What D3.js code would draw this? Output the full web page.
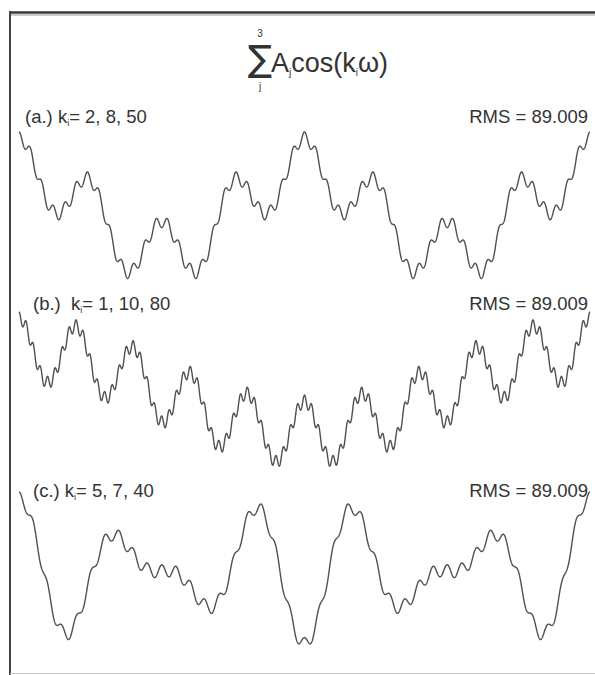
<!DOCTYPE html>
<html>
<head>
<meta charset="utf-8">
<script src="https://cdn.jsdelivr.net/npm/d3@7"></script>
<style>
  body { margin: 0; background: #fff; }
  svg text { font-family: "Liberation Sans", Arial, sans-serif; fill: #333; }
</style>
</head>
<body>
<div id="vis"></div>
<script>
// three harmonics per panel, same amplitudes in each
var amplitudes = [100, 75, 15];
var panelNames = ["(a.)", "(b.)", "(c.)"];
var kValues = [[2, 8, 50], [1, 10, 80], [5, 7, 40]];
var rmsLabels = ["RMS = 89.009", "RMS = 89.009", "RMS = 89.009"];
var nSamples = 2400;

var W = 595, H = 675;
var svg = d3.select("#vis").append("svg")
    .attr("width", W).attr("height", H);

// frame (scan is cut on the right)
svg.append("line").attr("x1", 10).attr("x2", 595).attr("y1", 12.5).attr("y2", 12.5)
    .attr("stroke", "#3a3a3a").attr("stroke-width", 2.5);
svg.append("line").attr("x1", 10).attr("x2", 595).attr("y1", 15).attr("y2", 15)
    .attr("stroke", "#bbb").attr("stroke-width", 1.5);
svg.append("line").attr("x1", 10).attr("x2", 10).attr("y1", 11).attr("y2", 675)
    .attr("stroke", "#444").attr("stroke-width", 2);
svg.append("line").attr("x1", 10).attr("x2", 595).attr("y1", 673.5).attr("y2", 673.5)
    .attr("stroke", "#c8c8c8").attr("stroke-width", 1);

// title: sum sign with its limits in one text, formula in another
var sig = svg.append("text").attr("font-size", 36)
    .style("font-family", "'DejaVu Sans', sans-serif");
sig.append("tspan").attr("x", 248).attr("y", 71).text("\u2211");
sig.append("tspan").attr("x", 260).attr("y", 37).attr("font-size", 10)
    .attr("text-anchor", "middle").style("font-family", "'Liberation Sans', Arial").text("3");
sig.append("tspan").attr("x", 260).attr("y", 90).attr("font-size", 10)
    .attr("text-anchor", "middle").style("font-family", "'Liberation Sans', Arial").text("j");

var tt = svg.append("text").attr("x", 271).attr("y", 72).attr("font-size", 27);
tt.append("tspan").text("A");
tt.append("tspan").attr("font-size", 10).attr("dy", 4).text("j");
tt.append("tspan").attr("dy", -4).text("cos(k");
tt.append("tspan").attr("font-size", 10).attr("dy", 4).text("i");
tt.append("tspan").attr("dy", -4).text("\u03c9)");

var x = d3.scaleLinear().domain([0, 2 * Math.PI]).range([19, 590]);
var maxAmp = d3.sum(amplitudes);

var centers = [211, 391, 571];
var labelY = [123, 310, 497];

var line = d3.line().x(function(d) { return x(d[0]); });

kValues.forEach(function(ks, p) {
    var y = d3.scaleLinear().domain([-maxAmp, maxAmp])
        .range([centers[p] + maxAmp * 0.416, centers[p] - maxAmp * 0.416]);

    var pts = d3.range(nSamples + 1).map(function(i) {
        var w = 2 * Math.PI * i / nSamples;
        var v = d3.sum(ks, function(k, j) { return amplitudes[j] * Math.cos(k * w); });
        return [w, v];
    });

    svg.append("path").datum(pts)
        .attr("d", line.y(function(d) { return y(d[1]); }))
        .attr("fill", "none").attr("stroke", "#505050").attr("stroke-width", 1.4);

    var lx = p === 0 ? 25 : 33;
    var lab = svg.append("text").attr("x", lx).attr("y", labelY[p]).attr("font-size", 18.5);
    lab.append("tspan").text(panelNames[p] + (p === 1 ? "\u00a0 k" : " k"));
    lab.append("tspan").attr("font-size", 9).attr("dy", 3).text("i");
    lab.append("tspan").attr("dy", -3).text("= " + ks.join(", "));

    svg.append("text").attr("x", 588).attr("y", labelY[p]).attr("font-size", 18.5)
        .attr("text-anchor", "end").text(rmsLabels[p]);
});
</script>
</body>
</html>
